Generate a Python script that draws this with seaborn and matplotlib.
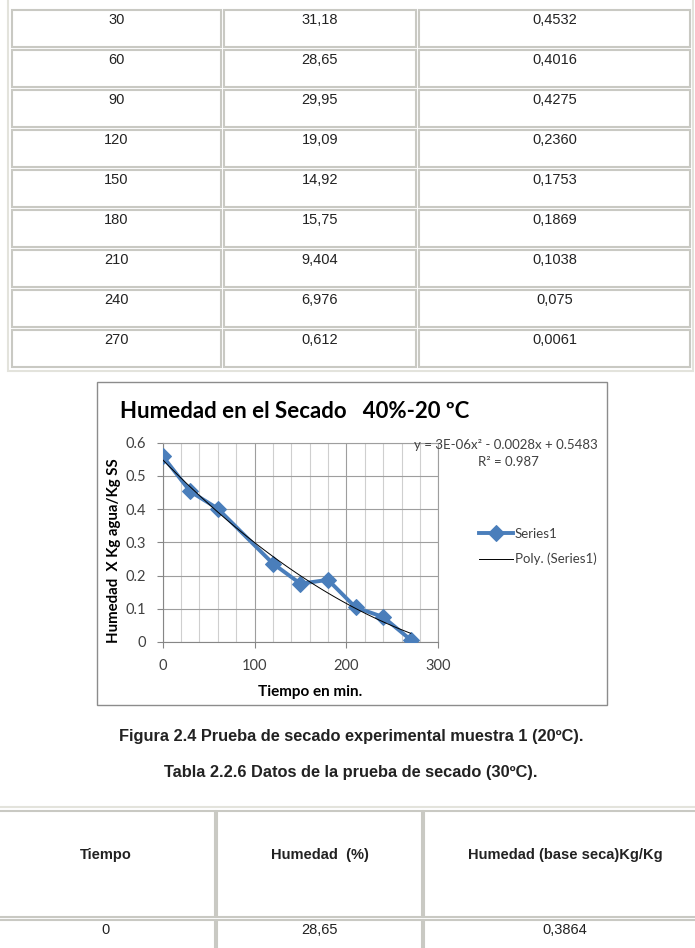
import numpy as np
import pandas as pd
import seaborn as sns
import matplotlib.pyplot as plt
from matplotlib.patches import Rectangle

# Table rows shown at the top of the page (Tabla, 20 C)
tabla_tiempo = ["30", "60", "90", "120", "150", "180", "210", "240", "270"]
tabla_humedad = ["31,18", "28,65", "29,95", "19,09", "14,92", "15,75", "9,404", "6,976", "0,612"]
tabla_base = ["0,4532", "0,4016", "0,4275", "0,2360", "0,1753", "0,1869", "0,1038", "0,075", "0,0061"]

# Points plotted in the chart (Series1)
serie_tiempo = [0, 30, 60, 120, 150, 180, 210, 240, 270]
serie_humedad = [0.56, 0.4532, 0.4016, 0.2360, 0.1753, 0.1869, 0.1038, 0.075, 0.0061]

# Second table (30 C) header and first row
tabla2_cols = ["Tiempo", "Humedad  (%)", "Humedad (base seca)Kg/Kg"]
tabla2_fila = ["0", "28,65", "0,3864"]

W, H = 695, 948
fig = plt.figure(figsize=(W / 100, H / 100), dpi=100)
page = fig.add_axes([0, 0, 1, 1])
page.set_xlim(0, W)
page.set_ylim(H, 0)
page.axis("off")

PAGE_FONT = ["Liberation Sans", "DejaVu Sans"]
CHART_FONT = ["Lato", "DejaVu Sans"]
cell_edge = "#c9c9c3"

# --- top table ---
page.add_patch(Rectangle((8, -10), 685, 381, fc="white", ec="#e3e3dc", lw=1.5))
cols = [(12, 221), (224, 416), (419, 690)]
for i in range(len(tabla_tiempo)):
    top = 10 + 40 * i
    for (x0, x1), txt in zip(cols, [tabla_tiempo[i], tabla_humedad[i], tabla_base[i]]):
        page.add_patch(Rectangle((x0, top), x1 - x0, 37, fc="white", ec=cell_edge, lw=1.5))
        page.text((x0 + x1) / 2, top + 10, txt, ha="center", va="center",
                  fontsize=10.5, family=PAGE_FONT, color="#222222")

# --- chart frame ---
page.add_patch(Rectangle((97, 382), 510, 323, fc="white", ec="#8c8c8c", lw=1))

ax = fig.add_axes([162.6 / W, 1 - 641.9 / H, (438.3 - 162.6) / W, (641.9 - 442.7) / H])
ax.set_zorder(2)

blue = "#4a7ebb"
sns.lineplot(x=serie_tiempo, y=serie_humedad, ax=ax, color=blue, lw=2.8,
             marker="D", markersize=8, markeredgecolor=blue, label="Series1", zorder=3)
sns.regplot(x=serie_tiempo, y=serie_humedad, order=2, ci=None, scatter=False, ax=ax,
            line_kws=dict(color="black", lw=0.7, zorder=4), label="Poly. (Series1)")

ax.set_xlim(0, 300)
ax.set_ylim(0, 0.6)
ax.set_xticks([0, 100, 200, 300])
ax.set_xticks(np.arange(0, 301, 20), minor=True)
ax.set_yticks(np.arange(0, 0.61, 0.1))
ax.set_yticklabels(["0", "0.1", "0.2", "0.3", "0.4", "0.5", "0.6"])
ax.grid(which="major", color="#9e9e9e", lw=0.8)
ax.grid(which="minor", axis="x", color="#cfcfcf", lw=0.8)
ax.set_axisbelow(True)
ax.tick_params(which="major", length=4, color="#868686", pad=8, labelsize=10.5,
               labelcolor="#404040")
ax.tick_params(which="minor", length=0)
for lab in ax.get_xticklabels() + ax.get_yticklabels():
    lab.set_family(CHART_FONT)
for side in ["left", "bottom"]:
    ax.spines[side].set_color("#868686")
for side in ["top", "right"]:
    ax.spines[side].set_color("#9e9e9e")
    ax.spines[side].set_linewidth(0.8)
ax.set_xlabel("")
ax.set_ylabel("")

handles, labels = ax.get_legend_handles_labels()
order = [labels.index("Series1"), labels.index("Poly. (Series1)")]
ax.legend([handles[k] for k in order], [labels[k] for k in order],
          loc="upper left", bbox_to_anchor=(472, 521), bbox_transform=page.transData,
          frameon=False, borderpad=0, handlelength=2.6, handletextpad=0.15,
          labelspacing=1.0, prop=dict(family=CHART_FONT, size=9.5),
          labelcolor="#404040")

fig.text(120, 412, "Humedad en el Secado   40%-20 ºC", ha="left", va="center",
         transform=page.transData, fontsize=16, fontweight="bold", family=CHART_FONT,
         color="black", zorder=5)
page.text(114, 551, "Humedad  X Kg agua/Kg SS", rotation=90, ha="center", va="center",
          fontsize=10.8, fontweight="bold", family=CHART_FONT, color="black")
page.text(310, 692, "Tiempo en min.", ha="center", va="center",
          fontsize=11, fontweight="bold", family=CHART_FONT, color="black")
fig.text(598, 445, "y = 3E-06x² - 0.0028x + 0.5483", ha="right", va="center",
         transform=page.transData, fontsize=9.5, family=CHART_FONT, color="#404040",
         zorder=5)
fig.text(508, 462, "R² = 0.987", ha="center", va="center",
         transform=page.transData, fontsize=9.5, family=CHART_FONT, color="#404040",
         zorder=5)

# --- captions ---
page.text(351, 737, "Figura 2.4 Prueba de secado experimental muestra 1 (20ºC).",
          ha="center", va="center", fontsize=11.8, fontweight="bold", family=PAGE_FONT,
          color="#222222")
page.text(351, 772, "Tabla 2.2.6 Datos de la prueba de secado (30ºC).",
          ha="center", va="center", fontsize=11.8, fontweight="bold", family=PAGE_FONT,
          color="#222222")

# --- second table ---
page.add_patch(Rectangle((-5, 807), 710, 160, fc="white", ec="#e3e3dc", lw=1.5))
cols2 = [(-3, 215), (217, 422), (424, 700)]
for (x0, x1), head, val in zip(cols2, tabla2_cols, tabla2_fila):
    page.add_patch(Rectangle((x0, 811), x1 - x0, 106, fc="white", ec=cell_edge, lw=1.5))
    page.text((x0 + x1) / 2 if x1 < 700 else 565, 855, head, ha="center", va="center",
              fontsize=10.5, fontweight="bold", family=PAGE_FONT, color="#222222")
    page.add_patch(Rectangle((x0, 920), x1 - x0, 40, fc="white", ec=cell_edge, lw=1.5))
    page.text((x0 + x1) / 2 if x1 < 700 else 565, 930, val, ha="center", va="center",
              fontsize=10.5, family=PAGE_FONT, color="#222222")

fig.savefig("out.png", dpi=100)
